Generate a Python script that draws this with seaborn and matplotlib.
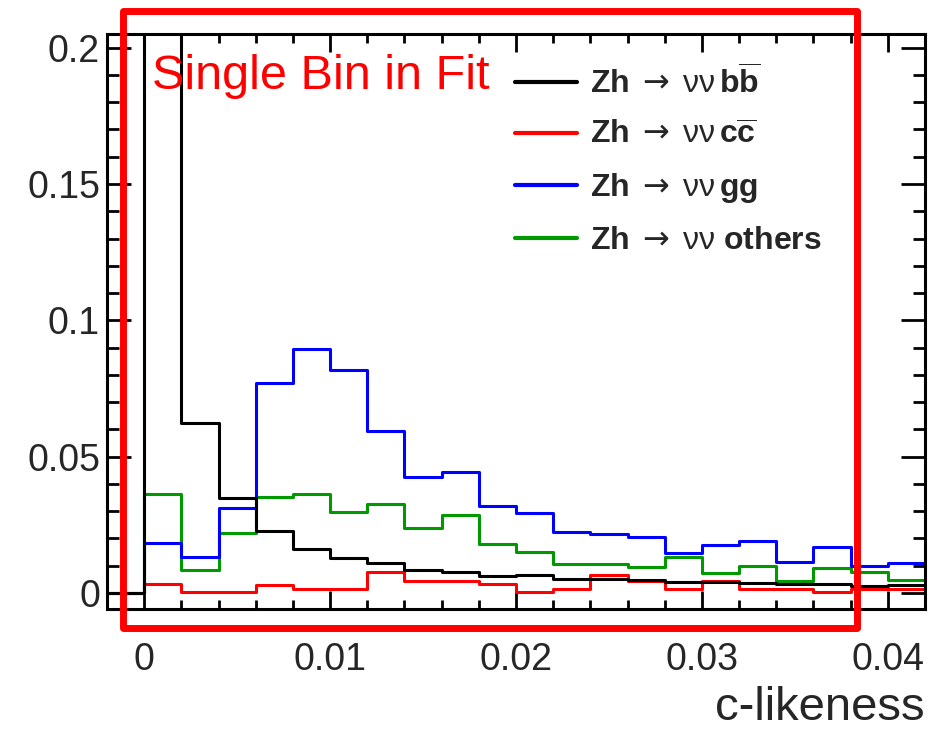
import numpy as np
import pandas as pd
import seaborn as sns
import matplotlib.pyplot as plt
from matplotlib.lines import Line2D
from matplotlib.patches import Rectangle
from matplotlib.ticker import MultipleLocator, FuncFormatter

# bin edges of the c-likeness histograms (22 bins)
bin_edges = [-0.002, 0.0, 0.002, 0.004, 0.006, 0.008, 0.010, 0.012, 0.014, 0.016, 0.018,
             0.020, 0.022, 0.024, 0.026, 0.028, 0.030, 0.032, 0.034, 0.036, 0.038, 0.040, 0.042]

# normalised bin contents
zh_bb = [0.0, 0.52, 0.0622, 0.0348, 0.0226, 0.0162, 0.0129, 0.0109, 0.0083, 0.0077, 0.0062,
         0.0067, 0.0052, 0.0052, 0.0048, 0.0039, 0.0039, 0.0036, 0.0033, 0.0033, 0.0026, 0.0030]
zh_cc = [0.0, 0.0032, 0.0002, 0.0002, 0.0028, 0.0016, 0.0016, 0.0075, 0.0042, 0.0042, 0.0031,
         0.0002, 0.0015, 0.0064, 0.0044, 0.0015, 0.0042, 0.0015, 0.0014, 0.0002, 0.0015, 0.0015]
zh_gg = [0.0, 0.0185, 0.0133, 0.0312, 0.0769, 0.0895, 0.0817, 0.0594, 0.0424, 0.0444, 0.0320,
         0.0292, 0.0225, 0.0216, 0.0206, 0.0146, 0.0176, 0.0190, 0.0114, 0.0170, 0.0099, 0.0111]
zh_others = [0.0, 0.0362, 0.0083, 0.0221, 0.0351, 0.0362, 0.0297, 0.0325, 0.0237, 0.0285, 0.0178,
             0.0149, 0.0106, 0.0106, 0.0095, 0.0131, 0.0072, 0.0099, 0.0042, 0.0092, 0.0075, 0.0048]

processes = ['bb', 'cc', 'gg', 'others']
legend_labels = [r'$\mathbf{Zh}\ \,\mathsf{→}\ \,\mathrm{νν}\,\mathbf{b\overline{b}}$',
                 r'$\mathbf{Zh}\ \,\mathsf{→}\ \,\mathrm{νν}\,\mathbf{c\overline{c}}$',
                 r'$\mathbf{Zh}\ \,\mathsf{→}\ \,\mathrm{νν}\,\mathbf{gg}$',
                 r'$\mathbf{Zh}\ \,\mathsf{→}\ \,\mathrm{νν}\ \mathbf{others}$']
colors = {'bb': '#000000', 'cc': '#ff0000', 'gg': '#0000ff', 'others': '#009900'}

sns.set_style('ticks')
plt.rcParams['font.family'] = ['Liberation Sans', 'DejaVu Sans']
plt.rcParams['mathtext.fontset'] = 'custom'
plt.rcParams['mathtext.rm'] = 'Liberation Sans'
plt.rcParams['mathtext.bf'] = 'Liberation Sans:bold'
plt.rcParams['mathtext.it'] = 'Liberation Sans:italic'
plt.rcParams['mathtext.sf'] = 'DejaVu Sans'

# long-form table: one row per bin, bin centre weighted by content
edges = np.array(bin_edges)
centres = (edges[:-1] + edges[1:]) / 2
df = pd.concat([
    pd.DataFrame({'x': centres, 'w': vals, 'proc': p})
    for p, vals in zip(processes, [zh_bb, zh_cc, zh_gg, zh_others])
])

fig = plt.figure(figsize=(9.32, 7.32), dpi=100)
ax = fig.add_axes([0.1148, 0.168, 0.8777, 0.7855])

sns.histplot(data=df, x='x', weights='w', hue='proc', hue_order=processes, bins=bin_edges,
             element='step', fill=False, palette=colors, linewidth=2.2, legend=False, ax=ax)

ax.set_xlim(-0.002, 0.042)
ax.set_ylim(-0.0059, 0.205)
ax.set_ylabel('')

fmt = FuncFormatter(lambda v, pos: '%g' % round(v, 4))
ax.xaxis.set_major_locator(MultipleLocator(0.01))
ax.xaxis.set_minor_locator(MultipleLocator(0.002))
ax.yaxis.set_major_locator(MultipleLocator(0.05))
ax.yaxis.set_minor_locator(MultipleLocator(0.01))
ax.xaxis.set_major_formatter(fmt)
ax.yaxis.set_major_formatter(fmt)

ax.tick_params(which='both', direction='in', top=True, right=True, width=2, color='black')
ax.tick_params(axis='x', which='major', length=13, pad=24, labelsize=27)
ax.tick_params(axis='x', which='minor', length=6.5)
ax.tick_params(axis='y', which='major', length=17, pad=5, labelsize=27)
ax.tick_params(axis='y', which='minor', length=8.5)
for s in ax.spines.values():
    s.set_linewidth(2.2)
    s.set_color('black')

ax.set_xlabel('c-likeness', loc='right', fontsize=34)
ax.xaxis.set_label_coords(1.0, -0.134)

handles = [Line2D([], [], color=colors[p], lw=3) for p in processes]
ax.legend(handles, legend_labels, loc='upper left', bbox_to_anchor=(515 / 932, 1 - 65.5 / 732),
          bbox_transform=fig.transFigure, frameon=False, fontsize=23, handlelength=1.94,
          handletextpad=0.4, labelspacing=0.64, borderpad=0, borderaxespad=0)

# red box marking the single-bin fit region
box = Rectangle((123 / 932, 1 - 628 / 732), (857 - 123) / 932, (628 - 10.5) / 732,
                transform=fig.transFigure, fill=False, edgecolor='red', linewidth=5,
                joinstyle='round', zorder=10)
fig.add_artist(box)
fig.text(152 / 932, 1 - 89 / 732, 'Single Bin in Fit', color='red', fontsize=35, va='baseline')

fig.savefig('out.png', dpi=100)
